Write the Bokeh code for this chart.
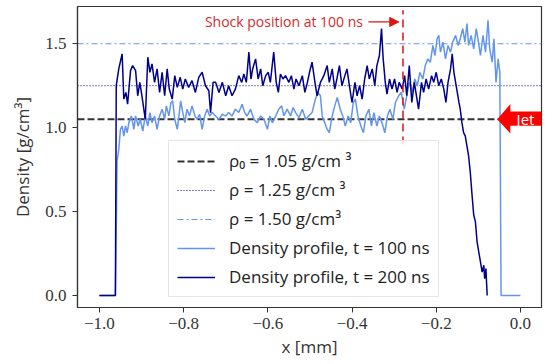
from bokeh.plotting import figure
from bokeh.models import (Range1d, FixedTicker, Label, Arrow, NormalHead,
                          Legend, LegendItem, PolyAnnotation)
from bokeh.embed import file_html
from bokeh.resources import INLINE

# ---------------- data ----------------
x_dark = [-1.000, -0.962, -0.960, -0.954, -0.946, -0.942, -0.937, -0.933, -0.926, -0.921,
          -0.914, -0.909, -0.904, -0.899, -0.891, -0.885, -0.880, -0.875, -0.869, -0.863,
          -0.857, -0.851, -0.845, -0.839, -0.834, -0.827, -0.821, -0.815, -0.808, -0.802,
          -0.796, -0.788, -0.780, -0.772, -0.764, -0.756, -0.748, -0.740, -0.736, -0.730,
          -0.724, -0.716, -0.708, -0.700, -0.693, -0.685, -0.677, -0.669, -0.662, -0.657,
          -0.651, -0.645, -0.640, -0.636, -0.629, -0.623, -0.617, -0.612, -0.605, -0.599,
          -0.594, -0.586, -0.580, -0.575, -0.570, -0.564, -0.558, -0.550, -0.544, -0.538,
          -0.533, -0.526, -0.518, -0.512, -0.506, -0.501, -0.495, -0.488, -0.483, -0.475,
          -0.467, -0.459, -0.454, -0.447, -0.441, -0.436, -0.430, -0.424, -0.417, -0.412,
          -0.405, -0.400, -0.393, -0.388, -0.382, -0.376, -0.370, -0.364, -0.359, -0.352,
          -0.346, -0.341, -0.335, -0.330, -0.326, -0.321, -0.317, -0.311, -0.305, -0.299,
          -0.293, -0.288, -0.281, -0.275, -0.270, -0.264, -0.258, -0.252, -0.247, -0.242,
          -0.235, -0.230, -0.224, -0.218, -0.211, -0.206, -0.200, -0.194, -0.188, -0.182,
          -0.177, -0.172, -0.166, -0.162, -0.158, -0.154, -0.150, -0.146, -0.143, -0.139,
          -0.135, -0.131, -0.127, -0.123, -0.119, -0.115, -0.111, -0.107, -0.103, -0.099,
          -0.095, -0.091, -0.087, -0.085, -0.082, -0.079]
y_dark = [0.00, 0.00, 1.25, 1.35, 1.44, 1.17, 1.21, 1.14, 1.34, 1.37,
          1.34, 1.19, 1.27, 1.19, 1.05, 1.42, 1.33, 1.38, 1.27, 1.35,
          1.21, 1.33, 1.19, 1.35, 1.23, 1.17, 1.31, 1.24, 1.30, 1.23,
          1.29, 1.24, 1.28, 1.21, 1.30, 1.33, 1.25, 1.22, 1.09, 1.27,
          1.27, 1.21, 1.27, 1.19, 1.25, 1.19, 1.23, 1.31, 1.27, 1.32,
          1.27, 1.45, 1.29, 1.35, 1.41, 1.29, 1.35, 1.25, 1.31, 1.33,
          1.27, 1.45, 1.27, 1.21, 1.32, 1.29, 1.31, 1.27, 1.31, 1.23,
          1.29, 1.25, 1.31, 1.21, 1.27, 1.33, 1.39, 1.27, 1.19, 1.27,
          1.31, 1.37, 1.27, 1.35, 1.23, 1.29, 1.37, 1.25, 1.31, 1.35,
          1.23, 1.15, 1.27, 1.19, 1.25, 1.17, 1.29, 1.37, 1.29, 1.35,
          1.25, 1.37, 1.43, 1.59, 1.41, 1.27, 1.20, 1.29, 1.23, 1.29,
          1.21, 1.27, 1.23, 1.31, 1.19, 1.37, 1.15, 1.27, 1.19, 1.11,
          1.27, 1.21, 1.29, 1.23, 1.31, 1.27, 1.33, 1.25, 1.29, 1.23,
          1.15, 1.27, 1.35, 1.44, 1.33, 1.27, 1.21, 1.15, 1.11, 1.03,
          0.97, 0.95, 0.89, 0.83, 0.73, 0.60, 0.48, 0.44, 0.32, 0.26,
          0.20, 0.14, 0.18, 0.10, 0.16, 0.00]

x_light = [-1.000, -0.962, -0.958, -0.954, -0.950, -0.946, -0.942, -0.938, -0.934, -0.930,
           -0.924, -0.918, -0.914, -0.908, -0.903, -0.897, -0.891, -0.885, -0.880, -0.875,
           -0.869, -0.863, -0.857, -0.851, -0.845, -0.841, -0.835, -0.830, -0.826, -0.821,
           -0.815, -0.811, -0.807, -0.802, -0.797, -0.792, -0.786, -0.780, -0.773, -0.768,
           -0.762, -0.756, -0.750, -0.744, -0.738, -0.732, -0.724, -0.716, -0.708, -0.700,
           -0.693, -0.685, -0.677, -0.669, -0.661, -0.655, -0.649, -0.641, -0.633, -0.625,
           -0.617, -0.609, -0.601, -0.595, -0.589, -0.581, -0.574, -0.567, -0.562, -0.554,
           -0.546, -0.540, -0.534, -0.526, -0.518, -0.510, -0.503, -0.495, -0.487, -0.481,
           -0.475, -0.471, -0.465, -0.459, -0.454, -0.447, -0.441, -0.435, -0.428, -0.422,
           -0.416, -0.409, -0.403, -0.397, -0.392, -0.386, -0.379, -0.373, -0.367, -0.360,
           -0.354, -0.348, -0.341, -0.335, -0.329, -0.322, -0.316, -0.310, -0.303, -0.297,
           -0.289, -0.283, -0.276, -0.270, -0.264, -0.257, -0.251, -0.245, -0.239, -0.232,
           -0.226, -0.220, -0.214, -0.208, -0.203, -0.198, -0.194, -0.190, -0.184, -0.178,
           -0.172, -0.166, -0.161, -0.154, -0.148, -0.143, -0.137, -0.132, -0.127, -0.123,
           -0.117, -0.111, -0.105, -0.101, -0.095, -0.089, -0.083, -0.077, -0.073, -0.067,
           -0.063, -0.058, -0.053, -0.049, -0.046, 0.000]
y_light = [0.00, 0.00, 0.80, 0.87, 0.99, 1.01, 0.95, 1.01, 0.97, 1.03,
           1.07, 0.99, 1.07, 1.01, 1.05, 0.98, 1.07, 1.01, 1.09, 1.03,
           1.07, 0.99, 1.07, 1.11, 1.05, 1.13, 1.07, 1.15, 1.16, 1.05,
           0.99, 1.07, 1.16, 1.09, 1.03, 1.11, 1.07, 1.13, 1.07, 1.05,
           1.08, 0.99, 1.07, 1.11, 1.07, 1.09, 1.07, 1.05, 1.08, 1.07,
           1.09, 1.07, 1.11, 1.09, 1.14, 1.09, 1.07, 1.11, 1.05, 1.03,
           1.07, 1.05, 0.99, 1.07, 1.03, 1.07, 1.11, 1.13, 1.07, 1.11,
           1.07, 1.12, 1.09, 1.06, 1.11, 1.05, 1.07, 1.09, 1.17, 1.21,
           1.19, 1.07, 1.03, 0.99, 0.97, 1.07, 1.13, 1.18, 1.11, 1.07,
           1.01, 1.07, 1.03, 1.15, 1.17, 1.07, 1.01, 0.97, 1.07, 1.11,
           1.01, 1.09, 1.01, 1.07, 1.03, 0.97, 1.07, 1.11, 1.05, 1.15,
           1.19, 1.21, 1.11, 1.19, 1.27, 1.21, 1.29, 1.25, 1.33, 1.29,
           1.37, 1.41, 1.39, 1.49, 1.43, 1.53, 1.55, 1.45, 1.51, 1.41,
           1.49, 1.45, 1.51, 1.55, 1.49, 1.53, 1.59, 1.51, 1.62, 1.49,
           1.55, 1.47, 1.59, 1.53, 1.43, 1.55, 1.45, 1.64, 1.47, 1.39,
           1.53, 1.27, 1.41, 1.33, 0.00, 0.00]

rho_values = [1.05, 1.25, 1.50]
shock_x = -0.279

x_ticks = [-1.0, -0.8, -0.6, -0.4, -0.2, 0.0]
x_tick_labels = ["\u22121.0", "\u22120.8", "\u22120.6", "\u22120.4", "\u22120.2", "0.0"]
y_ticks = [0.0, 0.5, 1.0, 1.5]
y_tick_labels = ["0.0", "0.5", "1.0", "1.5"]

legend_labels = ["\u03c1\u2080 = 1.05 g/cm \u00b3",
                 "\u03c1 = 1.25 g/cm \u00b3",
                 "\u03c1 = 1.50 g/cm\u00b3",
                 "Density profile, t = 100 ns",
                 "Density profile, t = 200 ns"]

# ---------------- styles ----------------
DARK = "#00008B"
LIGHT = "#6495ED"
RED = "#dd1414"
SANS = "Open Sans"
SERIF = "Liberation Serif"

x_range = Range1d(-1.052, 0.05)
p = figure(width=554, height=364, output_backend="svg", toolbar_location=None,
           x_range=x_range, y_range=Range1d(-0.0715, 1.722),
           min_border_left=77, min_border_right=13, min_border_top=6, min_border_bottom=57)

p.xgrid.visible = False
p.ygrid.visible = False
p.outline_line_color = "#333333"
p.outline_line_width = 1.2
p.background_fill_color = "white"
p.border_fill_color = "white"

for ax in (p.xaxis[0], p.yaxis[0]):
    ax.axis_line_color = "#333333"
    ax.axis_line_width = 1.2
    ax.major_tick_line_color = "#333333"
    ax.major_tick_out = 5
    ax.major_tick_in = 0
    ax.minor_tick_line_color = None
    ax.major_label_text_font = SERIF
    ax.major_label_text_font_size = "17px"
    ax.major_label_text_color = "#333333"
    ax.axis_label_text_font = SANS
    ax.axis_label_text_font_size = "17px"
    ax.axis_label_text_font_style = "normal"
    ax.axis_label_text_color = "#333333"

p.xaxis.ticker = FixedTicker(ticks=x_ticks)
p.xaxis.major_label_overrides = dict(zip(x_ticks, x_tick_labels))
p.yaxis.ticker = FixedTicker(ticks=y_ticks)
p.yaxis.major_label_overrides = dict(zip(y_ticks, y_tick_labels))
p.xaxis.axis_label = "x [mm]"
p.yaxis.axis_label = "Density [g/cm\u00b3]"
p.xaxis.major_label_standoff = 5
p.yaxis.major_label_standoff = 6
p.xaxis.axis_label_standoff = 3
p.yaxis.axis_label_standoff = 8

# reference density lines (span the whole x range)
ref_styles = [dict(line_color="#333333", line_width=2.0, line_dash="7 3"),
              dict(line_color=DARK, line_width=1.0, line_dash="1 2"),
              dict(line_color=LIGHT, line_width=1.0, line_dash="6 3 2 3")]
ref_renderers = []
for rho, st in zip(rho_values, ref_styles):
    ref_renderers.append(p.line(x=[x_range.start, x_range.end], y=[rho, rho], **st))

r_light = p.line(x_light, y_light, line_color=LIGHT, line_width=1.5)
r_dark = p.line(x_dark, y_dark, line_color=DARK, line_width=1.5)

# shock position marker
p.segment(x0=[shock_x], y0=[0.9], x1=[shock_x], y1=[1.70],
          line_color=RED, line_width=1.5, line_dash="8 5")
p.add_layout(Arrow(end=NormalHead(size=9, fill_color=RED, line_color=RED),
                   x_start=-0.361, y_start=1.63, x_end=shock_x - 0.010, y_end=1.63,
                   line_color=RED, line_width=1.2))
p.add_layout(Label(x=-0.374, y=1.63, text="Shock position at 100 ns",
                   text_align="right", text_baseline="middle",
                   text_font=SANS, text_font_size="14px", text_color="#d42a2a"))

# Jet arrow
p.add_layout(PolyAnnotation(xs=[-0.055, -0.024, -0.024, 0.06, 0.06, -0.024, -0.024],
                            ys=[1.05, 1.141, 1.097, 1.097, 1.012, 1.012, 0.966],
                            fill_color="#ff0000", fill_alpha=1.0, line_color=None))
p.add_layout(Label(x=0.012, y=1.05, text="Jet", text_align="center", text_baseline="middle",
                   text_font=SANS, text_font_size="15px", text_color="white"))

legend = Legend(items=[LegendItem(label=lab, renderers=[r]) for lab, r in
                       zip(legend_labels, ref_renderers + [r_light, r_dark])],
                location=(91, 10), orientation="vertical",
                label_text_font=SANS, label_text_font_size="17px", label_text_color="#222222",
                glyph_width=38, glyph_height=22, label_height=22, label_standoff=14,
                spacing=6, padding=8, margin=0,
                border_line_color="#cccccc", border_line_width=1,
                background_fill_color="white", background_fill_alpha=0.85)
p.add_layout(legend)

open("out.html", "w").write(file_html(p, INLINE))
